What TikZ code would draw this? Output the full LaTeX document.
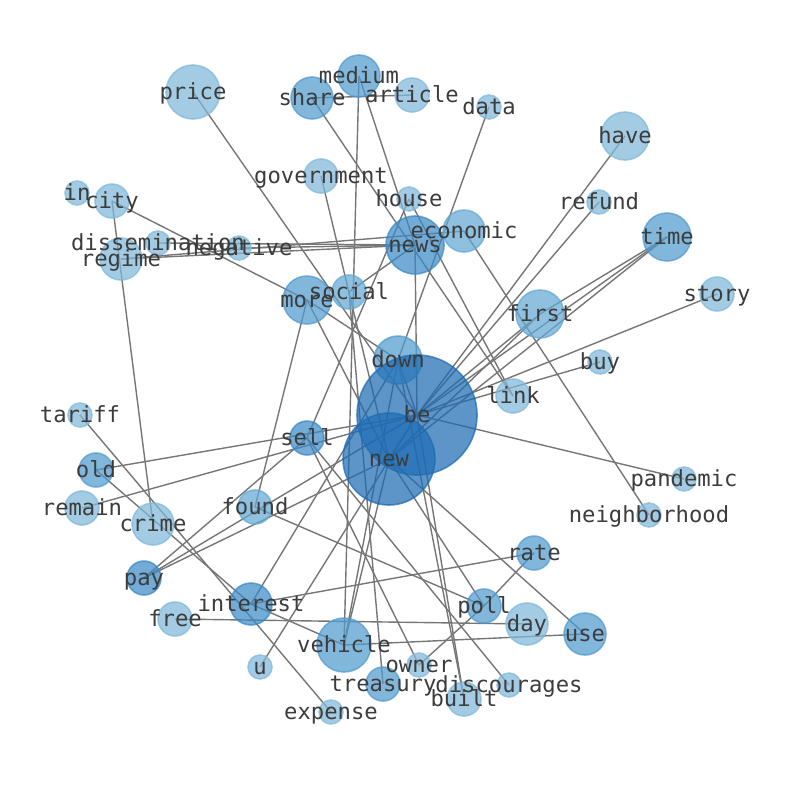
\documentclass[tikz,border=0pt]{standalone}
\usepackage{fontspec}
\setmonofont{DejaVu Sans Mono}
\pgfdeclarelayer{bg}
\pgfsetlayers{bg,main}
\definecolor{lvA}{RGB}{128,185,218}
\definecolor{lvB}{RGB}{100,168,212}
\definecolor{lvC}{RGB}{82,155,207}
\definecolor{lvD}{RGB}{60,138,198}
\definecolor{lvE}{RGB}{30,108,180}
\definecolor{edgegray}{RGB}{118,118,118}
\definecolor{txtgray}{RGB}{60,60,60}
\tikzset{
  nd/.style={circle, inner sep=0pt, fill opacity=0.72, draw opacity=0.72, line width=1.6pt},
  lbl/.style={font=\ttfamily\fontsize{22.2}{23}\selectfont, text=txtgray, inner sep=0pt, text height=0.76em, text depth=0.24em, anchor=center, yshift=-5pt},
  ed/.style={draw=edgegray, line width=1.4pt}
}
\newcommand{\gN}[5]{\node[nd,fill=#4,draw=#4,minimum size=#5pt] (#1) at (#2,#3) {};}
\newcommand{\gL}[2]{\node[lbl] (#1-l) at (#1.center) {#2};}
\newcommand{\gE}[2]{\draw[ed] (#1.center) -- (#2.center);}
\begin{document}
\begin{tikzpicture}[x=1pt,y=-1pt]
\useasboundingbox (0,0) rectangle (794,790);
% nodes
\gN{price}{193}{92}{lvA}{54}
\gN{medium}{359}{76}{lvC}{42}
\gN{share}{312}{98}{lvC}{42}
\gN{article}{412}{95}{lvA}{34}
\gN{data}{489}{107}{lvA}{24}
\gN{have}{625}{136}{lvA}{48}
\gN{government}{321}{176}{lvA}{34}
\gN{in}{77}{193}{lvA}{24}
\gN{city}{112}{201}{lvA}{34}
\gN{house}{409}{199}{lvA}{24}
\gN{refund}{599}{202}{lvA}{24}
\gN{economic}{464}{231}{lvB}{42}
\gN{news}{415}{245}{lvD}{58}
\gN{time}{667}{237}{lvC}{48}
\gN{negative}{239}{248}{lvA}{24}
\gN{dissemination}{158}{243}{lvA}{24}
\gN{regime}{121}{259}{lvA}{42}
\gN{more}{307}{300}{lvC}{48}
\gN{social}{349}{292}{lvB}{34}
\gN{story}{717}{294}{lvA}{34}
\gN{first}{540}{314}{lvB}{48}
\gN{down}{398}{360}{lvC}{48}
\gN{buy}{600}{362}{lvA}{24}
\gN{link}{513}{396}{lvA}{34}
\gN{be}{417}{415}{lvE}{120}
\gN{tariff}{80}{415}{lvA}{24}
\gN{sell}{307}{438}{lvD}{34}
\gN{new}{389}{459}{lvE}{92}
\gN{old}{96}{470}{lvC}{34}
\gN{pandemic}{684}{479}{lvA}{24}
\gN{remain}{82}{508}{lvA}{34}
\gN{found}{255}{507}{lvB}{34}
\gN{neighborhood}{649}{515}{lvA}{24}
\gN{crime}{153}{524}{lvA}{42}
\gN{rate}{534}{553}{lvC}{34}
\gN{pay}{144}{578}{lvD}{34}
\gN{interest}{251}{604}{lvD}{42}
\gN{poll}{484}{606}{lvC}{34}
\gN{free}{175}{619}{lvA}{34}
\gN{day}{527}{624}{lvA}{42}
\gN{use}{585}{634}{lvC}{42}
\gN{vehicle}{344}{645}{lvC}{54}
\gN{u}{260}{667}{lvA}{24}
\gN{owner}{419}{665}{lvA}{24}
\gN{treasury}{383}{684}{lvC}{34}
\gN{discourages}{509}{685}{lvA}{24}
\gN{built}{464}{699}{lvA}{34}
\gN{expense}{331}{712}{lvA}{24}
% edges
\begin{pgfonlayer}{bg}
\gE{price}{be}
\gE{share}{article}
\gE{share}{link}
\gE{medium}{vehicle}
\gE{medium}{news}
\gE{government}{new}
\gE{data}{down}
\gE{have}{be}
\gE{refund}{be}
\gE{time}{be}
\gE{time}{new}
\gE{time}{first}
\gE{story}{be}
\gE{economic}{neighborhood}
\gE{house}{sell}
\gE{house}{link}
\gE{regime}{news}
\gE{regime}{economic}
\gE{dissemination}{news}
\gE{negative}{news}
\gE{city}{more}
\gE{city}{crime}
\gE{social}{news}
\gE{social}{treasury}
\gE{old}{be}
\gE{old}{interest}
\gE{remain}{be}
\gE{tariff}{expense}
\gE{pay}{sell}
\gE{pay}{be}
\gE{pay}{new}
\gE{found}{more}
\gE{found}{poll}
\gE{interest}{rate}
\gE{interest}{vehicle}
\gE{interest}{down}
\gE{free}{day}
\gE{u}{be}
\gE{vehicle}{down}
\gE{vehicle}{new}
\gE{vehicle}{use}
\gE{owner}{poll}
\gE{sell}{owner}
\gE{sell}{discourages}
\gE{poll}{rate}
\gE{poll}{new}
\gE{built}{be}
\gE{built}{down}
\gE{new}{use}
\gE{more}{down}
\gE{more}{new}
\gE{news}{be}
\gE{first}{be}
\gE{first}{new}
\gE{buy}{be}
\gE{pandemic}{be}
\gE{be}{new}
\gE{down}{be}
\end{pgfonlayer}
% labels
\gL{price}{price}
\gL{medium}{medium}
\gL{share}{share}
\gL{article}{article}
\gL{data}{data}
\gL{have}{have}
\gL{government}{government}
\gL{in}{in}
\gL{city}{city}
\gL{house}{house}
\gL{refund}{refund}
\gL{economic}{economic}
\gL{news}{news}
\gL{time}{time}
\gL{negative}{negative}
\gL{dissemination}{dissemination}
\gL{regime}{regime}
\gL{more}{more}
\gL{social}{social}
\gL{story}{story}
\gL{first}{first}
\gL{down}{down}
\gL{buy}{buy}
\gL{link}{link}
\gL{be}{be}
\gL{tariff}{tariff}
\gL{sell}{sell}
\gL{new}{new}
\gL{old}{old}
\gL{pandemic}{pandemic}
\gL{remain}{remain}
\gL{found}{found}
\gL{neighborhood}{neighborhood}
\gL{crime}{crime}
\gL{rate}{rate}
\gL{pay}{pay}
\gL{interest}{interest}
\gL{poll}{poll}
\gL{free}{free}
\gL{day}{day}
\gL{use}{use}
\gL{vehicle}{vehicle}
\gL{u}{u}
\gL{owner}{owner}
\gL{treasury}{treasury}
\gL{discourages}{discourages}
\gL{built}{built}
\gL{expense}{expense}
\end{tikzpicture}
\end{document}
